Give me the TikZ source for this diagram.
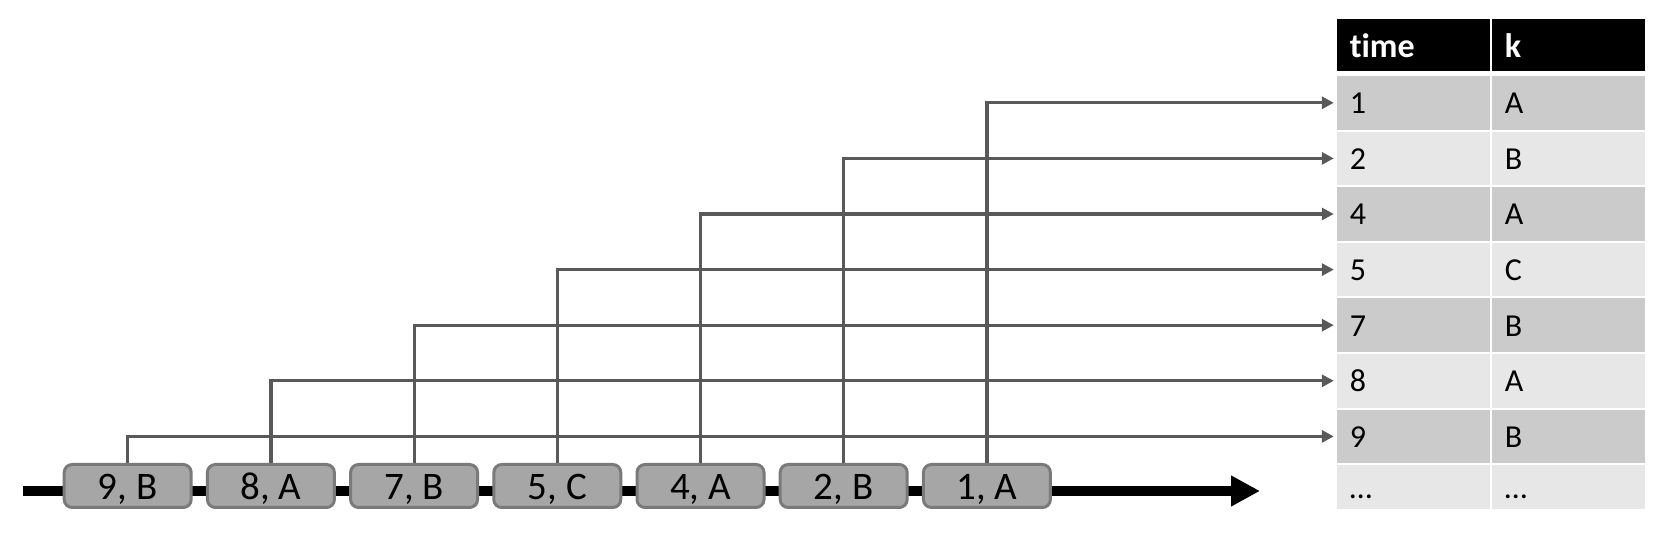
\documentclass[tikz,border=0pt]{standalone}
\usepackage{fontspec}
\setmainfont{Carlito}[Ligatures=NoCommon]
\usepackage{xcolor}
\usetikzlibrary{arrows.meta, positioning}

\definecolor{boxfill}{HTML}{A6A6A6}
\definecolor{boxline}{HTML}{7A7A7A}
\definecolor{linkgray}{HTML}{595959}
\definecolor{rowdark}{HTML}{CBCBCB}
\definecolor{rowlight}{HTML}{E7E7E7}

\begin{document}
\begin{tikzpicture}[
                x=0.5pt, y=-0.5pt,
                evt/.style={draw=boxline, fill=boxfill, rounded corners=4pt, line width=1.5pt,
                    minimum width=63.5pt, minimum height=21.5pt, inner sep=0pt,
                    text height=14pt, text depth=0pt, font=\fontsize{19.5}{19.5}\selectfont},
                cell/.style={text width=63.5pt, inner xsep=6.5pt, inner ysep=0pt, outer sep=0pt,
                    minimum height=26.8pt, align=left, text height=10.9pt, text depth=0pt,
                    font=\fontsize{16}{16}\selectfont},
                head/.style={cell, fill=black, text=white, minimum height=26pt, text height=12.3pt,
                    font=\bfseries\fontsize{17}{17}\selectfont},
                dark/.style={cell, fill=rowdark},
                light/.style={cell, fill=rowlight},
                link/.style={draw=linkgray, line width=1.6pt, -{Triangle[length=6pt, width=6pt]}, shorten >=1.5pt},
                timeline/.style={line width=5pt, -{Triangle[length=14.5pt, width=14.5pt]}},
            ]
                \useasboundingbox (0,0) rectangle (1662,534);

                % Time line
                \coordinate (tl-start) at (23,491);
                \coordinate (tl-end) at (1260,491);
                \draw[timeline] (tl-start) -- (tl-end);

                % Events
                \node[evt] (e9) at (127.7,486) {9, B};
                \node[evt, right=6.6pt of e9] (e8) {8, A};
                \node[evt, right=6.6pt of e8] (e7) {7, B};
                \node[evt, right=6.6pt of e7] (e5) {5, C};
                \node[evt, right=6.6pt of e5] (e4) {4, A};
                \node[evt, right=6.6pt of e4] (e2) {2, B};
                \node[evt, right=6.6pt of e2] (e1) {1, A};

                % Table
                \node[head] (htime) at (1413.3,45) {time};
                \node[head, right=1pt of htime] (hk) {k};
                \node[dark, below=2.5pt of htime] (t1) {1};
                \node[dark, right=1pt of t1] (k1) {A};
                \node[light, below=1pt of t1] (t2) {2};
                \node[light, right=1pt of t2] (k2) {B};
                \node[dark, below=1pt of t2] (t4) {4};
                \node[dark, right=1pt of t4] (k4) {A};
                \node[light, below=1pt of t4] (t5) {5};
                \node[light, right=1pt of t5] (k5) {C};
                \node[dark, below=1pt of t5] (t7) {7};
                \node[dark, right=1pt of t7] (k7) {B};
                \node[light, below=1pt of t7] (t8) {8};
                \node[light, right=1pt of t8] (k8) {A};
                \node[dark, below=1pt of t8] (t9) {9};
                \node[dark, right=1pt of t9] (k9) {B};
                \node[light, below=1pt of t9, minimum height=22pt] (tdots) {…};
                \node[light, right=1pt of tdots, minimum height=22pt] (kdots) {…};

                % Events into the table
                \draw[link] (e1.north) |- (t1.west);
                \draw[link] (e2.north) |- (t2.west);
                \draw[link] (e4.north) |- (t4.west);
                \draw[link] (e5.north) |- (t5.west);
                \draw[link] (e7.north) |- (t7.west);
                \draw[link] (e8.north) |- (t8.west);
                \draw[link] (e9.north) |- (t9.west);
            \end{tikzpicture}
\end{document}
